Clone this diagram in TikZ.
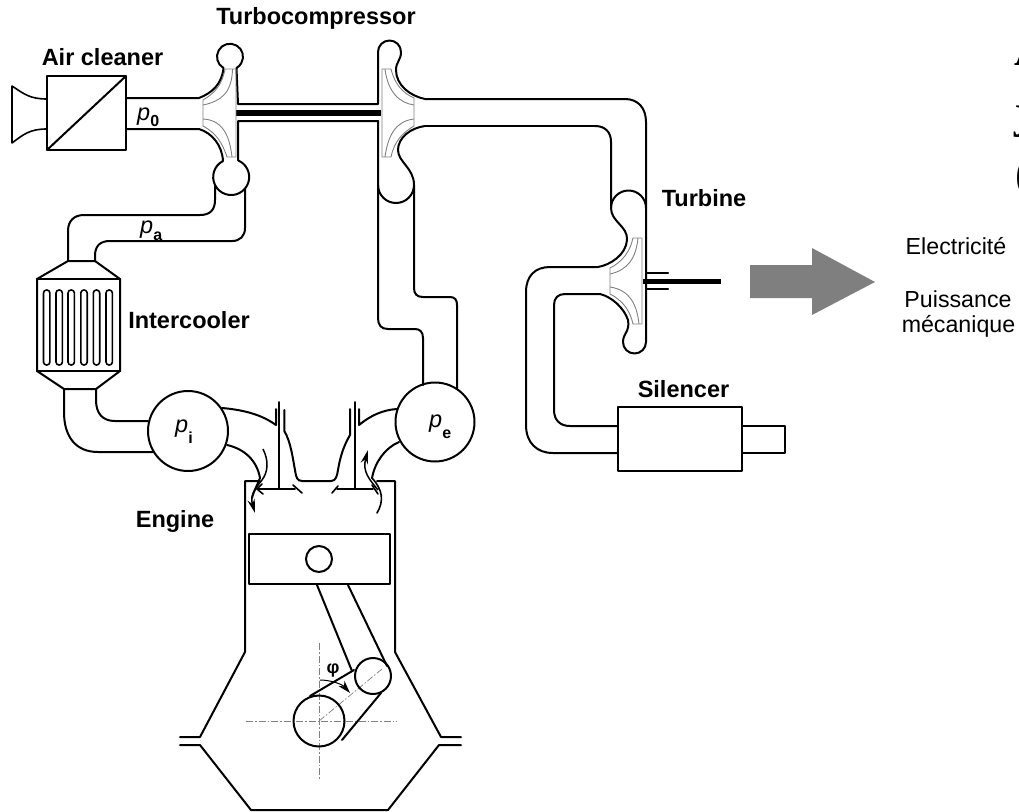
\documentclass[tikz,border=0pt]{standalone}
\usepackage{fontspec}
\setmainfont{Liberation Sans}
\newfontfamily\bigserif{Liberation Serif}
\usetikzlibrary{arrows.meta}
\definecolor{impgrey}{HTML}{808080}
\definecolor{arrowgrey}{HTML}{7F7F7F}
\tikzset{
  pipe/.style={line width=2pt,line join=round,line cap=round,black},
  thin pipe/.style={line width=1.6pt,line join=round,line cap=round,black},
  imp/.style={line width=0.9pt,impgrey,line join=round},
  axis/.style={line width=0.7pt,impgrey,dash pattern=on 7pt off 2pt on 1.5pt off 2pt},
  lab/.style={font=\fontsize{23.5}{26}\selectfont\bfseries,inner sep=0pt},
  txt/.style={font=\fontsize{23.2}{26}\selectfont,inner sep=0pt},
  sym/.style={font=\fontsize{23.5}{26}\selectfont,inner sep=0pt},
  big/.style={font=\bigserif\bfseries\fontsize{47}{50}\selectfont,inner sep=0pt,anchor=base west},
  flow/.style={line width=1.5pt,-{Stealth[length=14pt,width=7.5pt]}}
}
\newcommand{\psub}[2]{\textit{p}\raisebox{-#2pt}{\fontsize{16}{18}\selectfont\bfseries #1}}
\begin{document}
\begin{tikzpicture}[x=1pt,y=1pt,yscale=-1]
\useasboundingbox (0,0) rectangle (1019,811);
\clip (0,0) rectangle (1019,811);
% ---- air cleaner
\draw[pipe] (47,76) rectangle (126,150);
\draw[pipe] (47,150) -- (126,76);
\draw[thin pipe] (47,99) .. controls (30,99) and (24,94) .. (12,86) -- (12,143) .. controls (24,134) and (30,129) .. (47,129);
% ---- shaft
\draw[line width=5.5pt] (236,113) -- (381,113);
% ---- compressor housing and turbine, upper line
\draw[pipe] (126,98) -- (199,98) .. controls (212,93) and (222,84) .. (223.5,68)
  arc[start angle=120,end angle=420,radius=13] -- (238,104) -- (378,104) -- (378,52)
  arc[start angle=180,end angle=360,radius=11.5]
  .. controls (401,60) and (396,62) .. (396,70) .. controls (396,85) and (410,96) .. (425,99)
  -- (625,99) .. controls (638,99) and (646,108) .. (646,122) -- (646,342)
  arc[start angle=0,end angle=180,radius=11.5]
  .. controls (623,333) and (630,332) .. (628,320) .. controls (624,308) and (612,297) .. (600,294)
  -- (565,294) .. controls (558,294) and (554,298) .. (554,305) -- (554,410)
  .. controls (554,420) and (560,426) .. (570,426) -- (618,426);
% compressor lower line and large volute
\draw[pipe] (126,129) -- (199,129) .. controls (212,133) and (222,145) .. (223,161)
  arc[start angle=243,end angle=-67,radius=18] -- (238,157) -- (238,121) -- (378,121);
% turbine inlet: first pipe wall
\draw[pipe] (595,126) .. controls (605,126) and (611,132) .. (611,142) -- (611,208);
\draw[pipe] (646,208) arc[start angle=360,end angle=180,radius=17.5]
  .. controls (611,222) and (628,226) .. (627,240) .. controls (626,255) and (610,265) .. (598,267)
  -- (550,267) .. controls (535,267) and (526,276) .. (526,292) -- (526,425)
  .. controls (526,443) and (537,453) .. (553,453) -- (618,453);
\draw[pipe] (425,126) -- (595,126);
\draw[pipe] (425,126) .. controls (410,128) and (398,138) .. (398,150)
  .. controls (398,162) and (414,168) .. (414,185)
  arc[start angle=0,end angle=180,radius=18];
% exhaust pipes to p_e
\draw[pipe] (378,121) -- (378,318) .. controls (378,325) and (381,329) .. (388,329)
  -- (415,329) .. controls (420,329) and (423,332) .. (423,338) -- (423,385);
\draw[pipe] (414,185) -- (414,288) .. controls (414,294) and (417,297) .. (423,297)
  -- (450,297) .. controls (455,297) and (457,300) .. (457,305) -- (457,389);
% shaft turbine
\draw[line width=5pt] (643,281) -- (721,281);
\draw[pipe] (646,272.5) -- (668,272.5);
\draw[pipe] (646,288.5) -- (668,288.5);
% ---- impellers (grey)
\draw[imp] (203,100) .. controls (215,93) and (222,85) .. (225,69) -- (236,69) -- (236,157) -- (227,157) .. controls (222,142) and (216,133) .. (203,126) -- cycle;
\draw[imp] (203,105) .. controls (228,100) and (232,85) .. (232.5,69);
\draw[imp] (203,119) .. controls (225,120) and (230,140) .. (232,157);
\draw[imp] (414,98) .. controls (403,93) and (395,85) .. (391,69) -- (382,69) -- (382,157) -- (391,157) .. controls (394,142) and (402,133) .. (414,126) -- cycle;
\draw[imp] (385,69) .. controls (388,93) and (400,103) .. (414,105);
\draw[imp] (414,119) .. controls (396,121) and (388,135) .. (385,157);
\draw[imp] (610,268) .. controls (622,262) and (630,252) .. (633,238) -- (642,238) -- (642,324) -- (633,324) .. controls (630,310) and (622,300) .. (610,294) -- cycle;
\draw[imp] (610,274) .. controls (628,270) and (636,258) .. (638,238);
\draw[imp] (610,287) .. controls (630,290) and (637,305) .. (639,324);
% ---- p_a pipe
\draw[pipe] (215,186) -- (215,200) .. controls (215,210) and (210,215) .. (200,215) -- (84,215)
  .. controls (74,215) and (68,221) .. (68,231) -- (68,261);
\draw[pipe] (245,189) -- (245,228) .. controls (245,236) and (240,241) .. (232,241) -- (110,241)
  .. controls (100,241) and (95,246) .. (95,256) -- (95,261);
% ---- intercooler
\draw[pipe] (68,261) -- (95,261) -- (120,279) -- (120,371) -- (96,389) -- (64,389) -- (37,371) -- (37,279) -- cycle;
\draw[pipe] (37,279) -- (120,279);
\draw[pipe] (37,371) -- (120,371);
\foreach \fx in {46.7,59.2,71.2,84,96.5,109.2}{
  \draw[thin pipe,rounded corners=3pt] (\fx-3.2,290) rectangle (\fx+3.2,365);
}
\draw[pipe] (64,389) -- (64,412) .. controls (64,437) and (76,452) .. (98,452) -- (153,452);
\draw[pipe] (96,389) -- (96,400) .. controls (96,414) and (103,421) .. (115,421) -- (148,421);
% ---- manifolds
\draw[pipe] (188,431) circle[radius=40];
\draw[pipe] (435,422) circle[radius=39.5];
\draw[pipe] (222,408) .. controls (245,410) and (262,415) .. (276,425) -- (276,409);
\draw[pipe] (227,445) .. controls (245,449) and (257,461) .. (260,478) .. controls (258,484) and (254,490) .. (252,498);
\draw[pipe] (359,409) -- (359,425) .. controls (370,416) and (382,410) .. (397,409);
\draw[pipe] (399,442) .. controls (385,448) and (375,462) .. (372,478);
% valves and head
\draw[pipe] (279.3,402) -- (279.3,489);
\draw[pipe] (354.7,402) -- (354.7,489);
\draw[pipe] (284.3,410) -- (284.3,431) .. controls (291,442) and (293,460) .. (295,470) .. controls (296,477) and (297,481) .. (302,481)
  -- (331,481) .. controls (336,481) and (337,476) .. (338,470) .. controls (340,458) and (343,447) .. (350,435) -- (350,409);
\draw[thin pipe] (262,484) -- (257,489) -- (295,489);
\draw[thin pipe] (263,494) -- (257,489);
\draw[thin pipe] (293,485) -- (302,493);
\draw[thin pipe] (332,493) -- (338,486);
\draw[thin pipe] (337,489) -- (373,489);
\draw[thin pipe] (372,485) -- (378,494);
% flow arrows
\draw[flow] (263,449) .. controls (269,461) and (268,472) .. (262,480) .. controls (254,490) and (250,496) .. (255,513);
\draw[thin pipe] (377,513) .. controls (384,501) and (383,490) .. (372,478);
\draw[flow] (378,490) .. controls (370,480) and (362,472) .. (368,450);
% ---- engine
\draw[pipe] (260,481) -- (245,481) -- (245,652) -- (200,737) -- (180,737);
\draw[pipe] (180,745) -- (200,745) -- (251,810) -- (388,810) -- (439,745) -- (461,745);
\draw[pipe] (377,481) -- (395,481) -- (395,652) -- (441,737) -- (461,737);
\draw[pipe] (249,534) rectangle (390,584);
\draw[pipe] (319,559) circle[radius=13];
\draw[pipe] (317,585) -- (352,671);
\draw[pipe] (348,585) -- (387,666);
\draw[axis] (246,721) -- (397,721);
\draw[axis] (319,643) -- (319,779);
\draw[axis] (319,721) -- (382,669);
\draw[pipe] (319,721) circle[radius=25.5];
\draw[pipe] (373,676) circle[radius=18];
\draw[pipe] (310,696) -- (354,670);
\draw[pipe] (342,740) -- (381,693);
\draw[line width=1pt,-{Stealth[length=13pt,width=8pt]}] (320,680) .. controls (330,680) and (342,684) .. (350,693);
% ---- silencer
\draw[pipe] (618,407) rectangle (742,471);
\draw[pipe] (742,426) -- (785,426) -- (785,453) -- (742,453);
% ---- output arrow
\fill[arrowgrey] (750,265) -- (812,265) -- (812,248) -- (875,282) -- (812,315) -- (812,298) -- (750,298) -- cycle;
% ---- labels
\node[lab] (turbocomp) at (316,18) {Turbocompressor};
\node[lab] (aircleaner) at (102.5,57) {Air cleaner};
\node[lab] (intercooler) at (189,320) {Intercooler};
\node[lab] (turbine) at (704,198) {Turbine};
\node[lab] (silencer) at (683.5,389) {Silencer};
\node[lab] (engine) at (175,521) {Engine};
\node[sym,anchor=base west] (pzero) at (137,120) {\psub{0}{6}};
\node[sym,anchor=base west] (pa) at (140,233) {\psub{a}{7}};
\node[sym,anchor=base west] (pi) at (175,432) {\psub{i}{11}};
\node[sym,anchor=base west] (pe) at (429,427) {\psub{e}{11}};
\node[font=\fontsize{18}{20}\selectfont\bfseries,inner sep=0pt] (phi) at (333,670) {φ};
\node[txt] (elec) at (956,246) {Electricité};
\node[txt] (puis) at (958,299) {Puissance};
\node[txt] (meca) at (958.5,326) {mécanique};
\node[big] (la) at (1014,65) {A};
\node[big] (lj) at (1014,127) {j};
\node[big] (lp) at (1015,189) {(};
\end{tikzpicture}
\end{document}
